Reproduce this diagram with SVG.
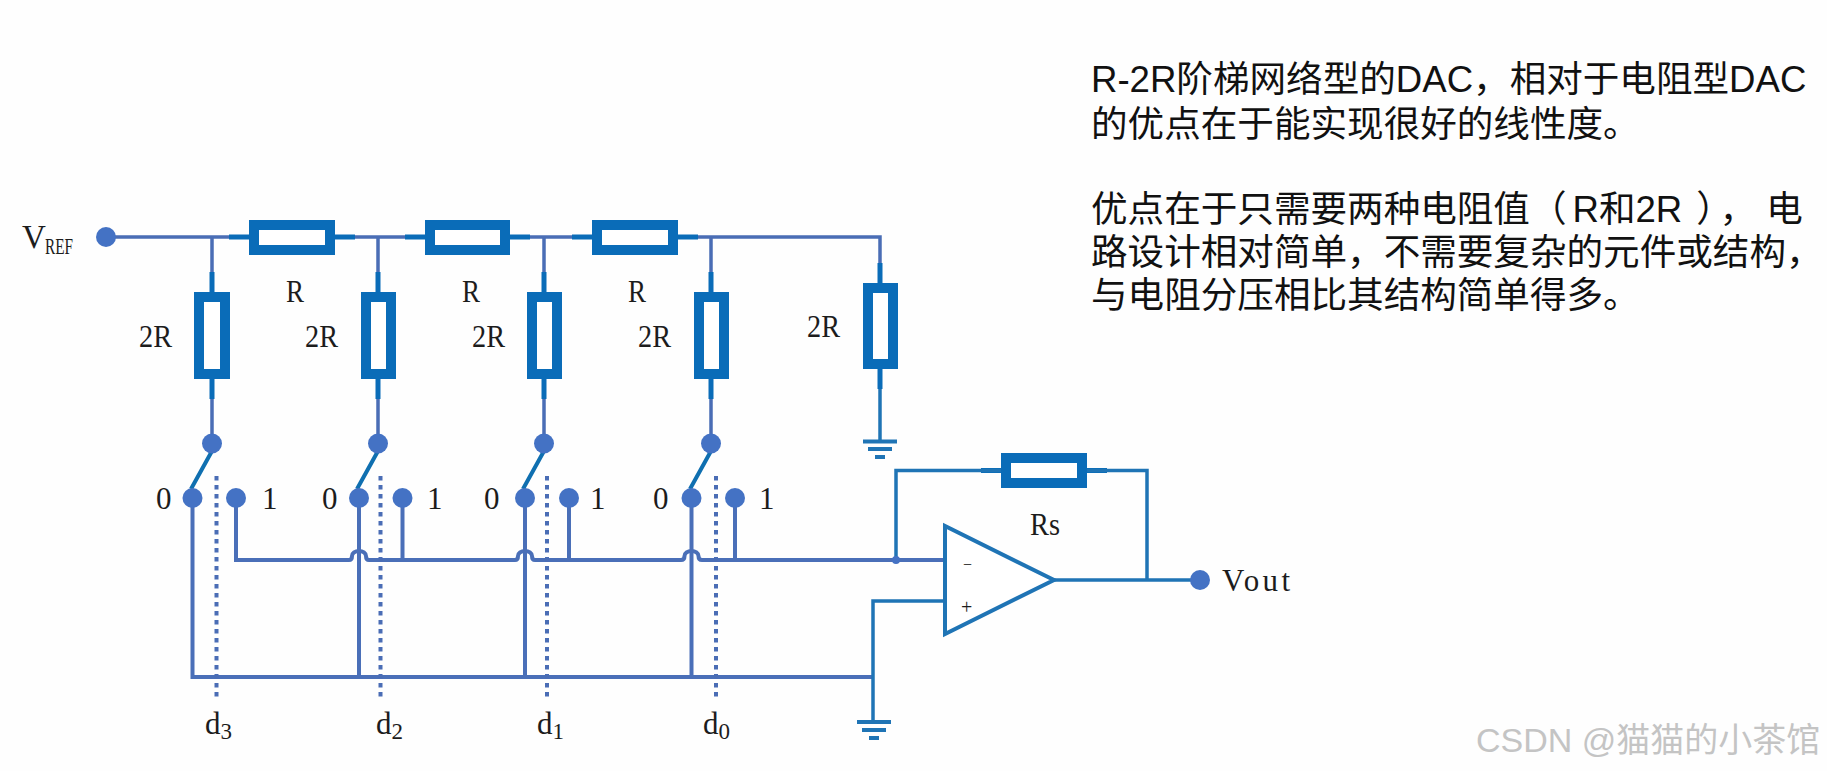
<svg xmlns="http://www.w3.org/2000/svg" width="1827" height="771" viewBox="0 0 1827 771">
<style>
.w{fill:none;stroke:#4a6db5;stroke-width:3.5}
.n{fill:none;stroke:#4a6fb8;stroke-width:4}
.f{fill:none;stroke:#1f74b5;stroke-width:3.5}
.d{fill:none;stroke:#4a6db5;stroke-width:4;stroke-dasharray:4.5 4.5}
.lead{fill:none;stroke:#0a6cb8;stroke-width:5}
.sw{fill:none;stroke:#0f6fb0;stroke-width:4}
.res{fill:#fff;stroke:#0a6cb8;stroke-width:10}
.dot{fill:#4472c4}
.g{fill:none;stroke:#1f74b5;stroke-width:4}
text{font-family:"Liberation Serif","Noto Sans CJK SC",serif;fill:#1c1c1c;font-size:31px}
.sub{font-size:23px}
.note{font-family:"Liberation Sans","Noto Sans CJK SC",sans-serif;font-size:36.6px;fill:#111}
.wm{font-family:"Liberation Sans","Noto Sans CJK SC",sans-serif;font-size:34px;fill:#c4c4c4}
</style>
<rect width="1827" height="771" fill="#fefefe"/>
<g id="connectors">
<path class="w" d="M106 237H880V283M212 237V292M378 237V292M544 237V292M711 237V292M212 379V443M378 379V443M544 379V443M711 379V443"/>
<path class="f" d="M880 369V441"/>
<path class="lead" d="M229 237H249M335 237H355M405 237H425M510 237H530M572 237H592M678 237H698M212 272V292M212 379V399M378 272V292M378 379V399M544 272V292M544 379V399M711 272V292M711 379V399M880 263V283M880 369V389M981 470.500H1001M1087 470.500H1107"/>
<path class="sw" d="M212 451L191 489M378 451L357 489M544 451L523 489M711 451L690 489"/>
<path class="n" d="M236 498V560H349Q352 560 352 556A7 5 0 0 1 366 556Q366 560 369 560H515Q518 560 518 556A7 5 0 0 1 532 556Q532 560 535 560H681Q684.500 560 684.500 556A7 5 0 0 1 698.500 556Q698.500 560 702 560H945M402.500 498V560M569 498V560M735 498V560"/>
<path class="n" d="M192.500 498V677H873M359 498V677M525 498V677M691.500 498V677"/>
<path class="d" d="M216.500 476V700M380.500 476V700M547 476V700M716 476V700"/>
<path class="f" d="M896 560V470.500H1147V580M1054 580H1200M945 601H873V722"/>
</g>
<g id="vref"><circle class="dot" cx="106" cy="237" r="10"/><text x="22" y="248" style="font-size:33px">V</text><text class="sub" x="45" y="254" textLength="28" lengthAdjust="spacingAndGlyphs">REF</text></g>
<g id="r1"><rect class="res" x="254" y="225" width="76" height="25"/><text x="286" y="302" textLength="18" lengthAdjust="spacingAndGlyphs">R</text></g>
<g id="r2"><rect class="res" x="430" y="225" width="75" height="25"/><text x="462" y="302" textLength="18" lengthAdjust="spacingAndGlyphs">R</text></g>
<g id="r3"><rect class="res" x="597" y="225" width="76" height="25"/><text x="628" y="302" textLength="18" lengthAdjust="spacingAndGlyphs">R</text></g>
<g id="r2r-3"><rect class="res" x="199" y="297" width="26" height="77"/><text x="139" y="347" textLength="33" lengthAdjust="spacingAndGlyphs">2R</text></g>
<g id="r2r-2"><rect class="res" x="366" y="297" width="25" height="77"/><text x="305" y="347" textLength="33" lengthAdjust="spacingAndGlyphs">2R</text></g>
<g id="r2r-1"><rect class="res" x="532" y="297" width="25" height="77"/><text x="472" y="347" textLength="33" lengthAdjust="spacingAndGlyphs">2R</text></g>
<g id="r2r-0"><rect class="res" x="699" y="297" width="25" height="77"/><text x="638" y="347" textLength="33" lengthAdjust="spacingAndGlyphs">2R</text></g>
<g id="r2r-t"><rect class="res" x="868" y="288" width="25" height="76"/><text x="807" y="337" textLength="33" lengthAdjust="spacingAndGlyphs">2R</text></g>
<g id="gnd-top"><path class="g" d="M863 441.500H897M868 449H892M875 457H885"/></g>
<g id="sw3"><circle class="dot" cx="212" cy="443.500" r="10"/><circle class="dot" cx="192.500" cy="498" r="10"/><circle class="dot" cx="236" cy="498" r="10"/><text x="156" y="509">0</text><text x="262" y="509">1</text><text x="205" y="734">d<tspan class="sub" dy="5">3</tspan></text></g>
<g id="sw2"><circle class="dot" cx="378" cy="443.500" r="10"/><circle class="dot" cx="359" cy="498" r="10"/><circle class="dot" cx="402.500" cy="498" r="10"/><text x="322" y="509">0</text><text x="427" y="509">1</text><text x="376" y="734">d<tspan class="sub" dy="5">2</tspan></text></g>
<g id="sw1"><circle class="dot" cx="544" cy="443.500" r="10"/><circle class="dot" cx="525" cy="498" r="10"/><circle class="dot" cx="569" cy="498" r="10"/><text x="484" y="509">0</text><text x="590" y="509">1</text><text x="537" y="734">d<tspan class="sub" dy="5">1</tspan></text></g>
<g id="sw0"><circle class="dot" cx="711" cy="443.500" r="10"/><circle class="dot" cx="691.500" cy="498" r="10"/><circle class="dot" cx="735" cy="498" r="10"/><text x="653" y="509">0</text><text x="759" y="509">1</text><text x="703" y="734">d<tspan class="sub" dy="5">0</tspan></text></g>
<g id="rs"><rect class="res" x="1006" y="458" width="76" height="25"/><text x="1030" y="535" textLength="30" lengthAdjust="spacingAndGlyphs">Rs</text></g>
<g id="opamp"><path d="M945 526V634L1054 580Z" fill="#fff" stroke="#1f74b5" stroke-width="4"/><circle cx="896" cy="560" r="4" fill="#4472c4"/><text x="963" y="570" style="font-size:16px">−</text><text x="961" y="614" style="font-size:20px">+</text></g>
<g id="vout"><circle class="dot" cx="1200" cy="580" r="10"/><text x="1222" y="591" textLength="68">Vout</text></g>
<g id="gnd-bot"><path class="g" d="M857 722H891M862 730H886M869 738H879"/></g>
<g id="note">
<text class="note" x="1091" y="92">R-2R阶梯网络型的DAC，相对于电阻型DAC</text>
<text class="note" x="1091" y="137">的优点在于能实现很好的线性度。</text>
<text class="note" x="1091" y="222">优点在于只需要两种电阻值（<tspan dx="6">R和2R</tspan><tspan dx="14">）</tspan><tspan dx="5">，</tspan><tspan dx="10">电</tspan></text>
<text class="note" x="1091" y="265">路设计相对简单，不需要复杂的元件或结构，</text>
<text class="note" x="1091" y="308">与电阻分压相比其结构简单得多。</text>
</g>
<text class="wm" x="1476" y="752">CSDN @猫猫的小茶馆</text>
</svg>
